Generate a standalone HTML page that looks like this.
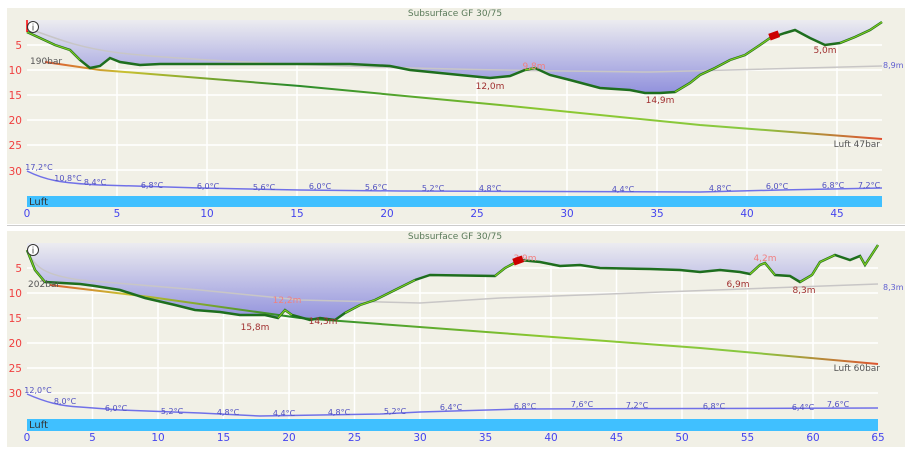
<!DOCTYPE html>
<html><head><meta charset="utf-8"><style>
html,body{margin:0;padding:0;background:#fff;width:911px;height:455px;overflow:hidden}
svg{display:block;font-family:"DejaVu Sans","Liberation Sans",sans-serif}
</style></head><body>
<svg width="911" height="455" viewBox="0 0 911 455">
<defs>
<linearGradient id="g1" x1="0" y1="20" x2="0" y2="95" gradientUnits="userSpaceOnUse"><stop offset="0" stop-color="#ececf0"/><stop offset="1" stop-color="#8f8fdc"/></linearGradient>
<linearGradient id="g2" x1="0" y1="243" x2="0" y2="322" gradientUnits="userSpaceOnUse"><stop offset="0" stop-color="#ececf0"/><stop offset="1" stop-color="#8f8fdc"/></linearGradient>
<linearGradient id="p1" x1="40" x2="882" y1="0" y2="0" gradientUnits="userSpaceOnUse"><stop offset="0" stop-color="#e05030"/><stop offset="0.1" stop-color="#c8c030"/><stop offset="0.3" stop-color="#2a8a2a"/><stop offset="0.6" stop-color="#8cc830"/><stop offset="0.85" stop-color="#88c840"/><stop offset="1" stop-color="#e05030"/></linearGradient>
</defs>
<rect x="7" y="8" width="898" height="216" fill="#f1f0e6"/>
<rect x="7" y="231" width="898" height="216" fill="#f1f0e6"/>
<line x1="7" y1="225.5" x2="905" y2="225.5" stroke="#ccc"/>
<!-- PANEL 1 -->
<g stroke="#fff" stroke-width="1.5">
<path d="M117 20V207M207 20V207M297 20V207M387 20V207M477 20V207M567 20V207M657 20V207M747 20V207M837 20V207"/>
<path d="M27 45H882M27 70H882M27 95H882M27 120H882M27 145H882M27 170H882"/>
</g>
<path d="M27 20 L27 32 L40 38 L55 45 L70 50 L80 60 L90 68 L100 66 L110 58 L120 62 L140 65 L160 64 L260 64 L350 64 L390 66 L410 70 L440 73 L470 76 L490 78 L510 76 L525 70 L535 68 L550 75 L570 80 L600 88 L630 90 L645 93 L660 93 L675 92 L690 83 L700 75 L715 68 L730 60 L745 55 L760 45 L770 38 L785 33 L795 30 L810 38 L825 45 L840 43 L855 37 L870 30 L882 22 L882 20Z" fill="url(#g1)"/>
<path d="M27 28 C60 40 80 48 120 53 C200 62 400 70 650 72 L882 66" fill="none" stroke="#c8c6c6" stroke-width="1.5"/>
<path d="M45 62 L100 70 L300 86 L500 105 L700 125 L882 139" fill="none" stroke="url(#p1)" stroke-width="2"/>
<path d="M27 32 L40 38 L55 45 L70 50 L80 60 L90 68 L100 66 L110 58 L120 62 L140 65 L160 64 L260 64 L350 64 L390 66 L410 70 L440 73 L470 76 L490 78 L510 76 L525 70 L535 68 L550 75 L570 80 L600 88 L630 90 L645 93 L660 93 L675 92 L690 83 L700 75 L715 68 L730 60 L745 55 L760 45 L770 38 L785 33 L795 30 L810 38 L825 45 L840 43 L855 37 L870 30 L882 22" fill="none" stroke="#1e6e1e" stroke-width="2.5"/>
<path d="M27 32 L40 38 L55 45 L70 50 L80 60 M525 70 L535 68 M675 92 L690 83 L700 75 L715 68 L730 60 L745 55 L760 45 L770 38 M840 43 L855 37 L870 30 L882 22" fill="none" stroke="#80cc20" stroke-width="1.2"/>
<path d="M27 20 L27 32" stroke="#f00" stroke-width="1.5"/>
<path d="M27 171 C45 180 60 183 100 185 L200 188 L300 190 L400 191 L700 192 L780 190 L882 188" fill="none" stroke="#7070e8" stroke-width="1.5"/>
<rect x="27" y="196" width="855" height="11" fill="#40c0ff"/>
<text x="29" y="205" font-size="10" fill="#333">Luft</text>
<g font-size="10.5" fill="#f04040" text-anchor="end"><text x="22" y="49">5</text><text x="22" y="74">10</text><text x="22" y="99">15</text><text x="22" y="124">20</text><text x="22" y="149">25</text><text x="22" y="175">30</text></g>
<g font-size="10.5" fill="#4444ee" text-anchor="middle"><text x="27" y="217">0</text><text x="117" y="217">5</text><text x="207" y="217">10</text><text x="297" y="217">15</text><text x="387" y="217">20</text><text x="477" y="217">25</text><text x="567" y="217">30</text><text x="657" y="217">35</text><text x="747" y="217">40</text><text x="837" y="217">45</text></g>
<text x="455" y="16" font-size="9" fill="#5a7a5a" text-anchor="middle">Subsurface GF 30/75</text>
<g font-size="9" fill="#a03030" text-anchor="middle"><text x="490" y="89">12,0m</text><text x="660" y="103">14,9m</text><text x="825" y="53">5,0m</text></g>
<text x="534" y="69" font-size="9" fill="#f08080" text-anchor="middle">9,8m</text>
<text x="30" y="64" font-size="9" fill="#555">190bar</text>
<text x="880" y="147" font-size="9" fill="#555" text-anchor="end">Luft 47bar</text>
<text x="883" y="68" font-size="8" fill="#6060d0">8,9m</text>
<g font-size="8" fill="#5050c0" text-anchor="middle"><text x="39" y="170">17,2°C</text><text x="68" y="181">10,8°C</text><text x="95" y="185">8,4°C</text><text x="152" y="188">6,8°C</text><text x="208" y="189">6,0°C</text><text x="264" y="190">5,6°C</text><text x="320" y="189">6,0°C</text><text x="376" y="190">5,6°C</text><text x="433" y="191">5,2°C</text><text x="490" y="191">4,8°C</text><text x="623" y="192">4,4°C</text><text x="720" y="191">4,8°C</text><text x="777" y="189">6,0°C</text><text x="833" y="188">6,8°C</text><text x="869" y="188">7,2°C</text></g>
<circle cx="33" cy="27" r="5.5" fill="#fff" stroke="#333"/><text x="33" y="30.5" font-size="9" text-anchor="middle" fill="#333">i</text>
<rect x="769" y="32" width="10" height="7" fill="#c00" transform="rotate(-20 774 35)"/>
<!-- PANEL 2 -->
<g stroke="#fff" stroke-width="1.5">
<path d="M92.5 243V430M158 243V430M223.5 243V430M289 243V430M354.5 243V430M420 243V430M485.5 243V430M551 243V430M616.5 243V430M682 243V430M747.5 243V430M813 243V430"/>
<path d="M27 268H878M27 293H878M27 318H878M27 343H878M27 368H878M27 393H878"/>
</g>
<path d="M27 243 L27 250 L35 270 L45 282 L80 284 L95 286 L120 290 L145 298 L175 305 L195 310 L220 312 L240 315 L265 315 L278 318 L285 310 L292 315 L310 320 L320 318 L335 320 L345 313 L360 305 L375 300 L395 290 L415 280 L430 275 L495 276 L505 268 L520 260 L540 262 L560 266 L580 265 L600 268 L650 269 L680 270 L700 272 L720 270 L740 272 L750 274 L760 265 L765 263 L775 275 L790 276 L800 282 L812 275 L820 262 L835 255 L850 260 L860 256 L865 265 L878 245 L878 243Z" fill="url(#g2)"/>
<path d="M27 250 C35 268 45 275 80 280 L200 290 L300 300 L420 303 L500 298 L878 284" fill="none" stroke="#c8c6c6" stroke-width="1.5"/>
<path d="M50 285 L150 297 L300 318 L500 333 L700 348 L878 364" fill="none" stroke="url(#p1)" stroke-width="2"/>
<path d="M27 250 L35 270 L45 282 L80 284 L95 286 L120 290 L145 298 L175 305 L195 310 L220 312 L240 315 L265 315 L278 318 L285 310 L292 315 L310 320 L320 318 L335 320 L345 313 L360 305 L375 300 L395 290 L415 280 L430 275 L495 276 L505 268 L520 260 L540 262 L560 266 L580 265 L600 268 L650 269 L680 270 L700 272 L720 270 L740 272 L750 274 L760 265 L765 263 L775 275 L790 276 L800 282 L812 275 L820 262 L835 255 L850 260 L860 256 L865 265 L878 245" fill="none" stroke="#1e6e1e" stroke-width="2.5"/>
<path d="M27 250 L35 270 L45 282 M278 318 L285 310 L292 315 M345 313 L360 305 L375 300 L395 290 L415 280 M495 276 L505 268 L520 260 M750 274 L760 265 L765 263 L775 275 M800 282 L812 275 L820 262 L835 255 M860 256 L865 265 L878 245" fill="none" stroke="#80cc20" stroke-width="1.2"/>
<path d="M27 394 C45 402 60 406 80 407 L120 410 L200 413 L260 416 L380 414 L420 412 L520 409 L878 408" fill="none" stroke="#7070e8" stroke-width="1.5"/>
<rect x="27" y="419" width="851" height="12" fill="#40c0ff"/>
<text x="29" y="428" font-size="10" fill="#333">Luft</text>
<g font-size="10.5" fill="#f04040" text-anchor="end"><text x="22" y="272">5</text><text x="22" y="297">10</text><text x="22" y="322">15</text><text x="22" y="347">20</text><text x="22" y="372">25</text><text x="22" y="397">30</text></g>
<g font-size="10.5" fill="#4444ee" text-anchor="middle"><text x="27" y="441">0</text><text x="92.5" y="441">5</text><text x="158" y="441">10</text><text x="223.5" y="441">15</text><text x="289" y="441">20</text><text x="354.5" y="441">25</text><text x="420" y="441">30</text><text x="485.5" y="441">35</text><text x="551" y="441">40</text><text x="616.5" y="441">45</text><text x="682" y="441">50</text><text x="747.5" y="441">55</text><text x="813" y="441">60</text><text x="878" y="441">65</text></g>
<text x="455" y="239" font-size="9" fill="#5a7a5a" text-anchor="middle">Subsurface GF 30/75</text>
<g font-size="9" fill="#a03030" text-anchor="middle"><text x="255" y="330">15,8m</text><text x="323" y="324">14,3m</text><text x="738" y="287">6,9m</text><text x="804" y="293">8,3m</text></g>
<g font-size="9" fill="#f08080" text-anchor="middle"><text x="287" y="303">12,2m</text><text x="525" y="261">3,9m</text><text x="765" y="261">4,2m</text></g>
<text x="28" y="287" font-size="9" fill="#555">202bar</text>
<text x="880" y="371" font-size="9" fill="#555" text-anchor="end">Luft 60bar</text>
<text x="883" y="290" font-size="8" fill="#6060d0">8,3m</text>
<g font-size="8" fill="#5050c0" text-anchor="middle"><text x="38" y="393">12,0°C</text><text x="65" y="404">8,0°C</text><text x="116" y="411">6,0°C</text><text x="172" y="414">5,2°C</text><text x="228" y="415">4,8°C</text><text x="284" y="416">4,4°C</text><text x="339" y="415">4,8°C</text><text x="395" y="414">5,2°C</text><text x="451" y="410">6,4°C</text><text x="525" y="409">6,8°C</text><text x="582" y="407">7,6°C</text><text x="637" y="408">7,2°C</text><text x="714" y="409">6,8°C</text><text x="803" y="410">6,4°C</text><text x="838" y="407">7,6°C</text></g>
<circle cx="33" cy="250" r="5.5" fill="#fff" stroke="#333"/><text x="33" y="253.5" font-size="9" text-anchor="middle" fill="#333">i</text>
<rect x="513" y="257" width="10" height="7" fill="#c00" transform="rotate(-20 518 260)"/>
</svg>
</body></html>
